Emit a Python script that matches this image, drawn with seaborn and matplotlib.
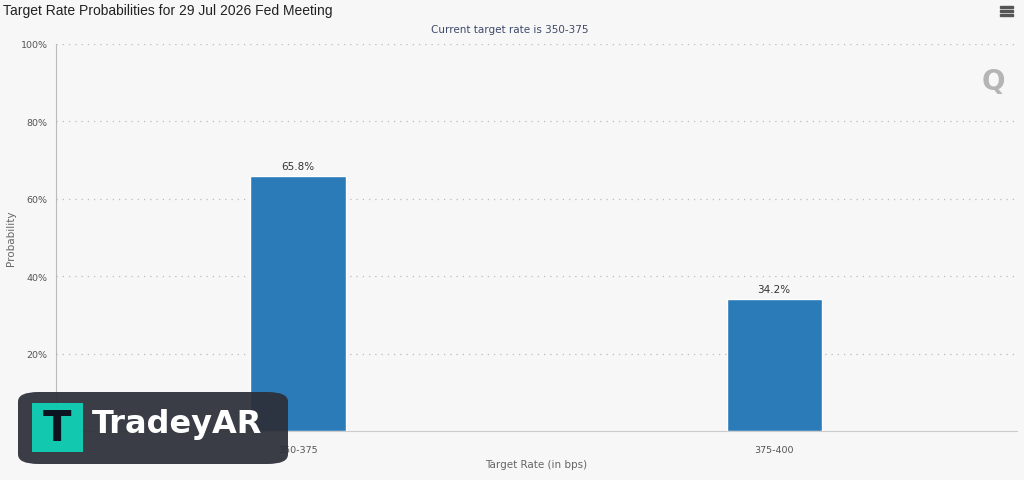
import pandas as pd
import matplotlib.pyplot as plt
import seaborn as sns
from matplotlib.patches import FancyBboxPatch, Rectangle
from matplotlib.ticker import FuncFormatter

# Datos del gráfico
target_rates = ["350-375", "375-400"]
probabilities = [65.8, 34.2]
y_ticks = [20, 40, 60, 80, 100]

df = pd.DataFrame({"rate": target_rates, "prob": probabilities})

sns.set_theme(style="white")
plt.rcParams['font.family'] = ['DejaVu Sans']

fig = plt.figure(figsize=(10.24, 4.81), dpi=100)
fig.patch.set_facecolor("#f7f7f7")
ax = fig.add_axes([56 / 1024, 1 - 432 / 481, 961 / 1024, 387 / 481])
ax.set_facecolor("#f7f7f7")

sns.barplot(data=df, x="rate", y="prob", color="#2b7bb9", width=0.2,
            saturation=1, ax=ax, zorder=3)

ax.set_ylim(0, 100)
ax.set_xlim(-0.508, 1.51)
ax.set_yticks(y_ticks)
ax.yaxis.set_major_formatter(FuncFormatter(lambda v, p: f"{int(v)}%"))
ax.tick_params(axis="y", labelsize=6.8, colors="#555555", length=4, width=0.8,
               color="#bbbbbb", pad=2)
ax.tick_params(axis="x", labelsize=6.8, colors="#555555", length=8, width=0.8,
               color="#cccccc", pad=2)
ax.grid(axis="y", linestyle=(0, (1, 4)), color="#bbbbbb", linewidth=0.9, zorder=0)

for side in ["top", "right"]:
    ax.spines[side].set_visible(False)
ax.spines["left"].set_color("#bbbbbb")
ax.spines["bottom"].set_color("#cccccc")
ax.spines["left"].set_linewidth(0.8)
ax.spines["bottom"].set_linewidth(0.8)

ax.set_xlabel("Target Rate (in bps)", fontsize=7.5, color="#666666", labelpad=4)
ax.set_ylabel("")
fig.text(11 / 1024, 1 - 238 / 481, "Probability", rotation=90, fontsize=7.5,
         color="#666666", ha="center", va="center")

for i, p in enumerate(probabilities):
    ax.text(i, p + 1.3, f"{p}%", ha="center", va="bottom", fontsize=7.5,
            color="#333333", zorder=4)

fig.text(3 / 1024, 1 - 11 / 481, "Target Rate Probabilities for 29 Jul 2026 Fed Meeting",
         fontsize=10, color="#222222", va="center", ha="left",
         family="Liberation Sans")
fig.text(510 / 1024, 1 - 30 / 481, "Current target rate is 350-375",
         fontsize=7.5, color="#3e4a6b", va="center", ha="center")

# icono de menú
for yy in [8, 12, 16]:
    fig.add_artist(Rectangle((1000 / 1024, 1 - (yy + 1) / 481), 13 / 1024, 2 / 481,
                             transform=fig.transFigure, color="#555555"))

# logo Q
fig.text(993 / 1024, 1 - 82 / 481, "Q", fontsize=20, fontweight="bold",
         color="#b5b5b5", ha="center", va="center")

# marca de agua
fig.add_artist(FancyBboxPatch((18 / 1024, 1 - 465 / 481), 270 / 1024, 72 / 481,
                              boxstyle="round,pad=0,rounding_size=0.02",
                              transform=fig.transFigure, facecolor="#2d2f38",
                              edgecolor="none", alpha=0.93, zorder=10))
fig.add_artist(Rectangle((32 / 1024, 1 - 453 / 481), 51 / 1024, 49 / 481,
                         transform=fig.transFigure, facecolor="#12c9b0",
                         edgecolor="none", zorder=11))
fig.text(57 / 1024, 1 - 429 / 481, "T", fontsize=30, fontweight="bold",
         color="#0d1320", ha="center", va="center", zorder=12)
fig.text(92 / 1024, 1 - 425 / 481, "TradeyAR", fontsize=23, fontweight="bold",
         color="white", ha="left", va="center", zorder=12)

fig.savefig("out.png", dpi=100, facecolor=fig.get_facecolor())
